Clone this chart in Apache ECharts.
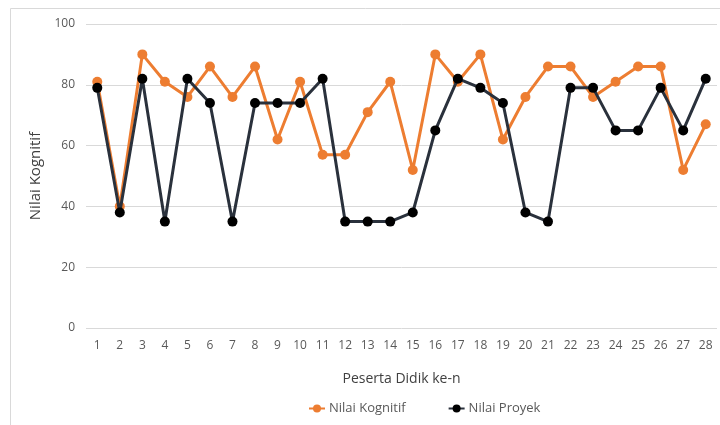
<!DOCTYPE html>
<html><head><meta charset="utf-8">
<script src="https://cdn.jsdelivr.net/npm/echarts@6/dist/echarts.min.js"></script>
<style>html,body{margin:0;padding:0;background:#fff}#c{width:720px;height:425px}</style>
</head><body><div id="c"></div>
<script>
const categories = ['1','2','3','4','5','6','7','8','9','10','11','12','13','14','15','16','17','18','19','20','21','22','23','24','25','26','27','28'];
const nilaiKognitif = [81,40,90,81,76,86,76,86,62,81,57,57,71,81,52,90,81,90,62,76,86,86,76,81,86,86,52,67];
const nilaiProyek = [79,38,82,35,82,74,35,74,74,74,82,35,35,35,38,65,82,79,74,38,35,79,79,65,65,79,65,82];
const yTicks = {min:0, max:100, interval:20};

const chart = echarts.init(document.getElementById('c'));
const font = '"Open Sans", "Liberation Sans", sans-serif';
chart.setOption({
  animation:false,
  textStyle:{fontFamily:font},
  graphic:[{type:'rect', shape:{x:10.5,y:8.5,width:720,height:430}, style:{fill:'none', stroke:'#d9d9d9', lineWidth:1}, silent:true}],
  grid:{left:86, right:3, top:24, bottom:97},
  legend:{
    top:397, left:303, itemGap:42, itemWidth:16, itemHeight:10,
    textStyle:{color:'#595959', fontSize:13, fontFamily:font, padding:[0,0,0,-1]},
    data:['Nilai Kognitif','Nilai Proyek']
  },
  xAxis:{
    type:'category', data:categories, boundaryGap:true,
    name:'Peserta Didik ke-n', nameLocation:'middle', nameGap:44,
    nameTextStyle:{color:'#404040', fontSize:14, fontFamily:font},
    axisLine:{show:false}, axisTick:{show:false},
    axisLabel:{color:'#595959', fontSize:12, margin:12, interval:0}
  },
  yAxis:{
    type:'value', min:yTicks.min, max:yTicks.max, interval:yTicks.interval,
    name:'Nilai Kognitif', nameLocation:'middle', nameGap:42,
    nameTextStyle:{color:'#404040', fontSize:15, fontFamily:font},
    axisLine:{show:false}, axisTick:{show:false},
    axisLabel:{color:'#595959', fontSize:12, margin:11},
    splitLine:{lineStyle:{color:'#d9d9d9', width:1}}
  },
  series:[
    {name:'Nilai Kognitif', type:'line', data:nilaiKognitif, symbol:'circle', symbolSize:10,
     lineStyle:{color:'#ED7D31', width:3}, itemStyle:{color:'#ED7D31'}, z:2},
    {name:'Nilai Proyek', type:'line', data:nilaiProyek, symbol:'circle', symbolSize:10,
     lineStyle:{color:'#2A313C', width:3}, itemStyle:{color:'#000000'}, z:3}
  ]
});
</script></body></html>
